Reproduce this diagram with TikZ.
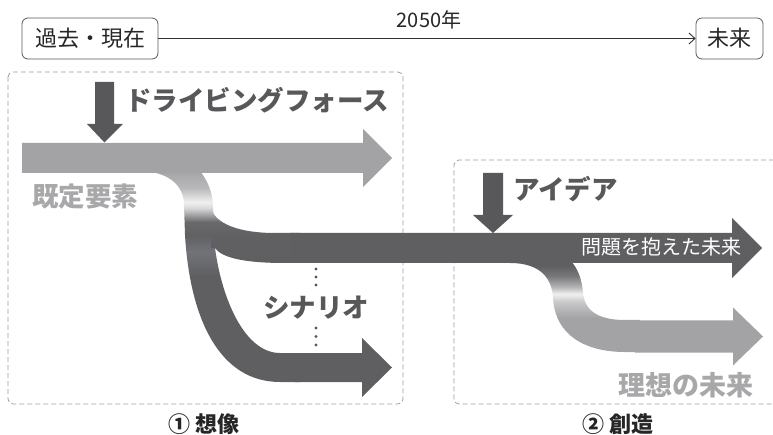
\documentclass[tikz,border=0pt]{standalone}
\usepackage{fontspec}
\newfontfamily\jp{Noto Sans CJK JP}
\usetikzlibrary{arrows.meta}
\definecolor{dk}{HTML}{5F5F62}
\definecolor{lt}{HTML}{A3A3A6}
\definecolor{ltx}{HTML}{A8A8AA}
\definecolor{dtx}{HTML}{58585B}
\definecolor{frm}{HTML}{9C9C9C}
\definecolor{gM}{HTML}{727378}
\definecolor{gDa}{HTML}{616164}
\definecolor{gDb}{HTML}{69696C}
\definecolor{gLb}{HTML}{D8D8DA}
\definecolor{gW}{HTML}{F0F0F0}
\definecolor{gLa}{HTML}{B8B8BA}
\definecolor{gT}{HTML}{A5A5A7}
\definecolor{gRa}{HTML}{C8C8CA}
\definecolor{gRb}{HTML}{B5B5B8}
\definecolor{gRc}{HTML}{77777B}
\pgfdeclareverticalshading{shL}{100bp}{color(0bp)=(dk); color(25bp)=(dk); color(50bp)=(dk); color(55.8bp)=(gM); color(59.8bp)=(gDa); color(62.9bp)=(gDb); color(66.2bp)=(gLb); color(67.6bp)=(gW); color(71bp)=(gLa); color(75bp)=(gT); color(100bp)=(gT)}
\pgfdeclareverticalshading{shU}{100bp}{color(0bp)=(dk); color(25bp)=(dk); color(50bp)=(gDa); color(61.6bp)=(gDb); color(74bp)=(gLb); color(100bp)=(gLb)}
\pgfdeclareverticalshading{shR}{100bp}{color(0bp)=(lt); color(25bp)=(lt); color(43.7bp)=(lt); color(52.5bp)=(gRa); color(56.9bp)=(gW); color(60.7bp)=(gRb); color(66.8bp)=(gRc); color(72.5bp)=(dk); color(100bp)=(dk)}
\tikzset{
  tbox/.style={draw=black!65, line width=0.8pt, rounded corners=6pt, minimum height=41pt, inner sep=0pt, font=\jp\fontsize{22}{22}\selectfont, text=black!85},
  frame/.style={draw=frm, line width=0.8pt, dash pattern=on 5pt off 3pt, rounded corners=5pt},
  bigdark/.style={font=\jp\bfseries\fontsize{26.5}{26.5}\selectfont, text=dtx, inner sep=0pt, anchor=west},
  biglight/.style={font=\jp\bfseries\fontsize{26.5}{26.5}\selectfont, text=ltx, inner sep=0pt, anchor=west},
  section/.style={font=\jp\bfseries\fontsize{22}{22}\selectfont, text=black!85, inner sep=0pt}
}
\begin{document}
\begin{tikzpicture}[x=1pt, y=-1pt]
\useasboundingbox (0,0) rectangle (773,435);
% timeline
\node[tbox, minimum width=136pt] (past) at (90,38.5) {過去・現在};
\node[tbox, minimum width=67pt] (future) at (729.5,38.5) {未来};
\draw[black!80, line width=0.9pt, -{Straight Barb[length=6pt,width=11pt]}] (past.east) -- (future.west);
\node[font=\jp\fontsize{20}{20}\selectfont, text=black!85, inner sep=0pt] (yr) at (429,20) {2050年};
% frames
\draw[frame] (8,72) rectangle (403,404);
\draw[frame] (790,160) -- (454,160) -- (454,404) -- (790,404);
% shaded branches
\shade[shading=shL] (138,171) .. controls (168,171) and (184,185) .. (184,205) -- (185,235)
  .. controls (190,320) and (220,382) .. (280,382) -- (300,382) -- (300,353) -- (280,353)
  .. controls (245,353) and (222,300) .. (215,248) -- (213,207)
  .. controls (213,192) and (207,180) .. (200,171) -- cycle;
\shade[shading=shU] (211,207) .. controls (214,224) and (240,233) .. (275,233) -- (300,233) -- (300,263)
  -- (285,263) .. controls (245,263) and (222,258) .. (215,248) -- (211,248) -- cycle;
\shade[shading=shR] (505,261) -- (510,263) .. controls (540,263) and (552,278) .. (553,298)
  .. controls (555,335) and (585,352) .. (625,352) -- (640,352) -- (640,320) -- (625,320)
  .. controls (600,320) and (585,312) .. (583,293) .. controls (582,278) and (577,268) .. (571,261) -- cycle;
% arrows
\fill[lt] (22,143) -- (363,143) -- (363,129) -- (392,158) -- (363,187) -- (363,173) -- (22,173) -- cycle;
\fill[dk] (290,233) -- (732,233) -- (732,218) -- (762,248) -- (732,278) -- (732,263) -- (290,263) -- cycle;
\fill[dk] (295,353) -- (362,353) -- (362,338) -- (392,367.5) -- (362,397) -- (362,382) -- (295,382) -- cycle;
\fill[lt] (635,320.5) -- (733,320.5) -- (733,307.5) -- (763,336.5) -- (733,365.5) -- (733,352.5) -- (635,352.5) -- cycle;
% down arrows
\fill[dtx] (95,82) -- (114,82) -- (114,124) -- (123,124) -- (104.5,142.5) -- (87,124) -- (95,124) -- cycle;
\fill[dtx] (483,173) -- (503,173) -- (503,215) -- (513,215) -- (493,233) -- (473,215) -- (483,215) -- cycle;
% dots
\foreach \yy in {269,277,285,328,336.5,345} \fill[dtx] (316,\yy) circle (1.6);
% labels
\node[bigdark] (df) at (125,100) {ドライビングフォース};
\node[biglight] (kt) at (32,197) {既定要素};
\node[bigdark] (idea) at (513,189) {アイデア};
\node[bigdark] (sc) at (263,308) {シナリオ};
\node[biglight, font=\jp\bfseries\fontsize{27}{27}\selectfont] (ideal) at (618,385) {理想の未来};
\node[font=\jp\fontsize{20}{20}\selectfont, text=white, inner sep=0pt, anchor=west] (prob) at (581,247) {問題を抱えた未来};
\node[section] (s1) at (204,424) {① 想像};
\node[section] (s2) at (618,424) {② 創造};
\end{tikzpicture}
\end{document}
